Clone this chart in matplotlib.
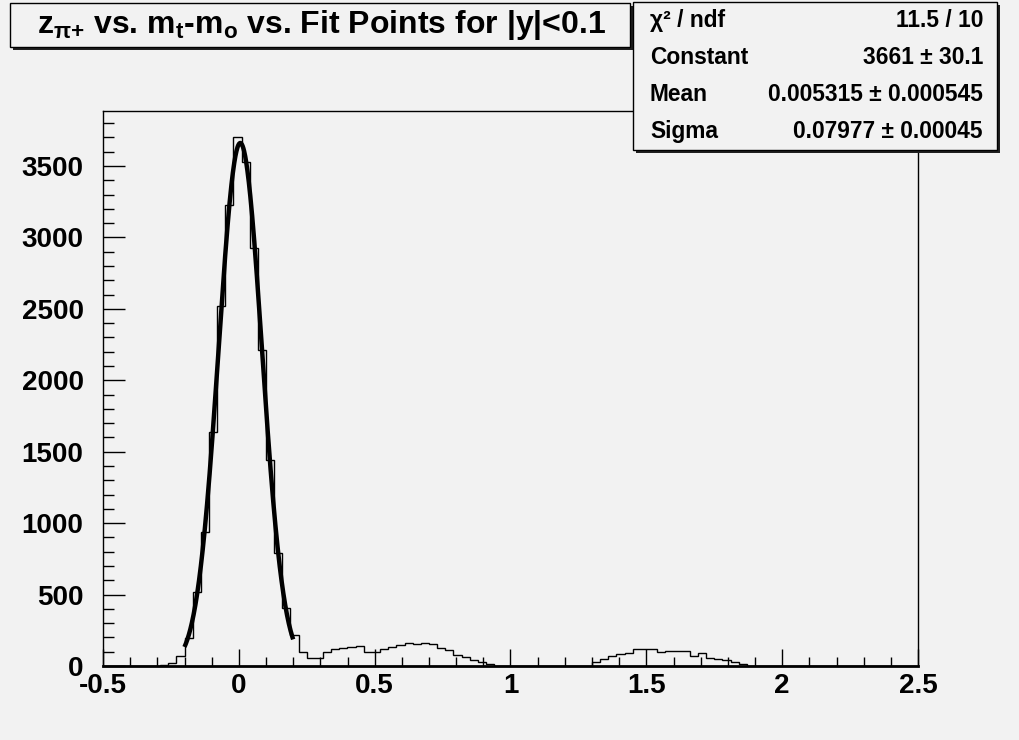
import numpy as np
import matplotlib
matplotlib.use("Agg")
import matplotlib.pyplot as plt
from matplotlib.patches import Rectangle
from matplotlib.ticker import MultipleLocator, FuncFormatter

# ---------------- data ----------------
# histogram: 100 bins from -0.5 to 2.5 (bin width 0.03)
n_bins = 100
x_min, x_max = -0.5, 2.5
# main peak + first side bump, first bin starting at -0.32
main_start_bin = 6
main_counts = [2, 6, 19, 70, 194, 516, 936, 1636, 2520, 3225, 3700, 3530, 2925,
               2210, 1440, 793, 404, 217, 97, 54, 54, 96, 119, 126, 134, 141,
               100, 100, 117, 135, 150, 161, 157, 161, 152, 124, 112, 74, 66,
               42, 30, 17]
# second bump, first bin starting at 1.30
bump_start_bin = 60
bump_counts = [28, 47, 68, 83, 93, 122, 120, 117, 98, 102, 108, 104, 72, 88,
               58, 49, 42, 30, 16]

# gaussian fit results
fit_constant = 3661
fit_mean = 0.005315
fit_sigma = 0.07977
fit_range = (-0.2, 0.2)

title_text = r"$\mathrm{z}_{\pi{+}}$ vs. $\mathrm{m}_{t}$-$\mathrm{m}_{o}$ vs. Fit Points for |y|<0.1"
stats_labels = ["\u03c7\u00b2 / ndf", "Constant", "Mean", "Sigma"]
stats_values = ["11.5 / 10", "3661 \u00b1 30.1", "0.005315 \u00b1 0.000545",
                "0.07977 \u00b1 0.00045"]

# ---------------- style ----------------
BG = "#f2f2f2"
W, H = 1020, 740
FONT = "Liberation Sans"

plt.rcParams["font.family"] = [FONT, "DejaVu Sans"]
plt.rcParams["font.weight"] = "bold"
plt.rcParams["mathtext.fontset"] = "custom"
plt.rcParams["mathtext.rm"] = FONT + ":bold"
plt.rcParams["mathtext.it"] = FONT + ":bold"
plt.rcParams["mathtext.bf"] = FONT + ":bold"
plt.rcParams["mathtext.sf"] = FONT + ":bold"

TITLE_FS = 23
TICK_FS = 20
STAT_FS = 16.4

fig = plt.figure(figsize=(W / 100, H / 100), dpi=100, facecolor=BG)
ax = fig.add_axes([103 / W, 74 / H, 815 / W, 555 / H], facecolor=BG)

counts = np.zeros(n_bins)
counts[main_start_bin:main_start_bin + len(main_counts)] = main_counts
counts[bump_start_bin:bump_start_bin + len(bump_counts)] = bump_counts
edges = np.linspace(x_min, x_max, n_bins + 1)

ax.stairs(counts, edges, color="black", lw=1.0, baseline=0)

xf = np.linspace(fit_range[0], fit_range[1], 300)
yf = fit_constant * np.exp(-0.5 * ((xf - fit_mean) / fit_sigma) ** 2)
ax.plot(xf, yf, color="black", lw=3.2, solid_capstyle="butt")

ax.set_xlim(x_min, x_max)
ax.set_ylim(0, 1.05 * max(counts))

ax.xaxis.set_major_locator(MultipleLocator(0.5))
ax.xaxis.set_minor_locator(MultipleLocator(0.1))
ax.yaxis.set_major_locator(MultipleLocator(500))
ax.yaxis.set_minor_locator(MultipleLocator(100))
ax.xaxis.set_major_formatter(FuncFormatter(lambda v, p: ("%g" % round(v, 3)) if abs(v) > 1e-9 else "0"))
ax.yaxis.set_major_formatter(FuncFormatter(lambda v, p: "%d" % round(v)))

ax.tick_params(which="both", direction="in", top=False, right=False, color="black")
ax.tick_params(axis="y", which="major", length=15.8, width=1, pad=14, labelsize=TICK_FS)
ax.tick_params(axis="y", which="minor", length=7.9, width=1)
ax.tick_params(axis="x", which="major", length=12.2, width=1, pad=5, labelsize=TICK_FS)
ax.tick_params(axis="x", which="minor", length=6.5, width=1)
for lab in ax.get_xticklabels() + ax.get_yticklabels():
    lab.set_fontweight("bold")
for s in ["top", "right", "left"]:
    ax.spines[s].set_linewidth(1.0)
ax.spines["bottom"].set_linewidth(2.0)


def fx(px):
    return px / W


def fy(py):
    return 1 - py / H


def box(x0, y0, x1, y1, shadow=3):
    sh = Rectangle((fx(x0 + shadow), fy(y1 + shadow)), fx(x1 - x0), (y1 - y0) / H,
                   transform=fig.transFigure, facecolor="#202020", edgecolor="none",
                   zorder=10)
    fig.add_artist(sh)
    b = Rectangle((fx(x0), fy(y1)), fx(x1 - x0), (y1 - y0) / H,
                  transform=fig.transFigure, facecolor=BG, edgecolor="black",
                  lw=1.0, zorder=11)
    fig.add_artist(b)


# title box
box(10, 3, 630, 47)
fig.text(fx(322), fy(25), title_text, ha="center", va="center", fontsize=TITLE_FS,
         fontweight="bold", zorder=12)

# stats box
box(633, 2, 997, 150)
row_h = (150 - 2) / 4
for i, (lab, val) in enumerate(zip(stats_labels, stats_values)):
    yc = 2 + row_h * (i + 0.5)
    fig.text(fx(650), fy(yc), lab, ha="left", va="center", fontsize=STAT_FS,
             fontweight="bold", zorder=12)
    fig.text(fx(983), fy(yc), val, ha="right", va="center", fontsize=STAT_FS,
             fontweight="bold", zorder=12)

fig.savefig("out.png", dpi=100, facecolor=BG)
